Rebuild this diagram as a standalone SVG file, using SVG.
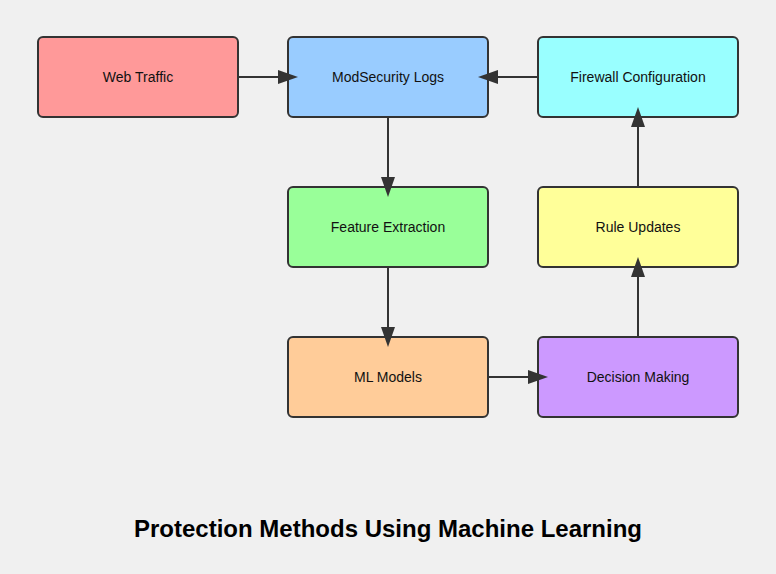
<svg xmlns="http://www.w3.org/2000/svg" width="776" height="574" viewBox="0 0 776 574">
<style>
.node rect{stroke:#333;stroke-width:2}
.node text{font-family:"Liberation Sans",Arial,sans-serif;font-size:14px;fill:#111;text-anchor:middle;dominant-baseline:central}
.edge{stroke:#333;stroke-width:2;fill:none}
.title{font-family:"Liberation Sans",Arial,sans-serif;font-size:24px;font-weight:bold;fill:#000;text-anchor:middle}
</style>
<defs>
<marker id="arrow" markerUnits="userSpaceOnUse" markerWidth="20" markerHeight="14" refX="10" refY="7" orient="auto">
<path d="M0,0 L20,7 L0,14 z" fill="#333"/>
</marker>
</defs>
<rect width="776" height="574" fill="#f0f0f0"/>
<g id="web-traffic" class="node"><rect x="38" y="37" width="200" height="80" rx="5" fill="#ff9999"/><text x="138" y="77">Web Traffic</text></g>
<g id="modsecurity-logs" class="node"><rect x="288" y="37" width="200" height="80" rx="5" fill="#99ccff"/><text x="388" y="77">ModSecurity Logs</text></g>
<g id="firewall-configuration" class="node"><rect x="538" y="37" width="200" height="80" rx="5" fill="#99ffff"/><text x="638" y="77">Firewall Configuration</text></g>
<g id="feature-extraction" class="node"><rect x="288" y="187" width="200" height="80" rx="5" fill="#99ff99"/><text x="388" y="227">Feature Extraction</text></g>
<g id="rule-updates" class="node"><rect x="538" y="187" width="200" height="80" rx="5" fill="#ffff99"/><text x="638" y="227">Rule Updates</text></g>
<g id="ml-models" class="node"><rect x="288" y="337" width="200" height="80" rx="5" fill="#ffcc99"/><text x="388" y="377">ML Models</text></g>
<g id="decision-making" class="node"><rect x="538" y="337" width="200" height="80" rx="5" fill="#cc99ff"/><text x="638" y="377">Decision Making</text></g>
<g id="connectors">
<line class="edge" x1="238" y1="77" x2="288" y2="77" marker-end="url(#arrow)"/>
<line class="edge" x1="538" y1="77" x2="488" y2="77" marker-end="url(#arrow)"/>
<line class="edge" x1="388" y1="117" x2="388" y2="187" marker-end="url(#arrow)"/>
<line class="edge" x1="388" y1="267" x2="388" y2="337" marker-end="url(#arrow)"/>
<line class="edge" x1="488" y1="377" x2="538" y2="377" marker-end="url(#arrow)"/>
<line class="edge" x1="638" y1="337" x2="638" y2="267" marker-end="url(#arrow)"/>
<line class="edge" x1="638" y1="187" x2="638" y2="117" marker-end="url(#arrow)"/>
</g>
<text class="title" x="388" y="537">Protection Methods Using Machine Learning</text>
</svg>
